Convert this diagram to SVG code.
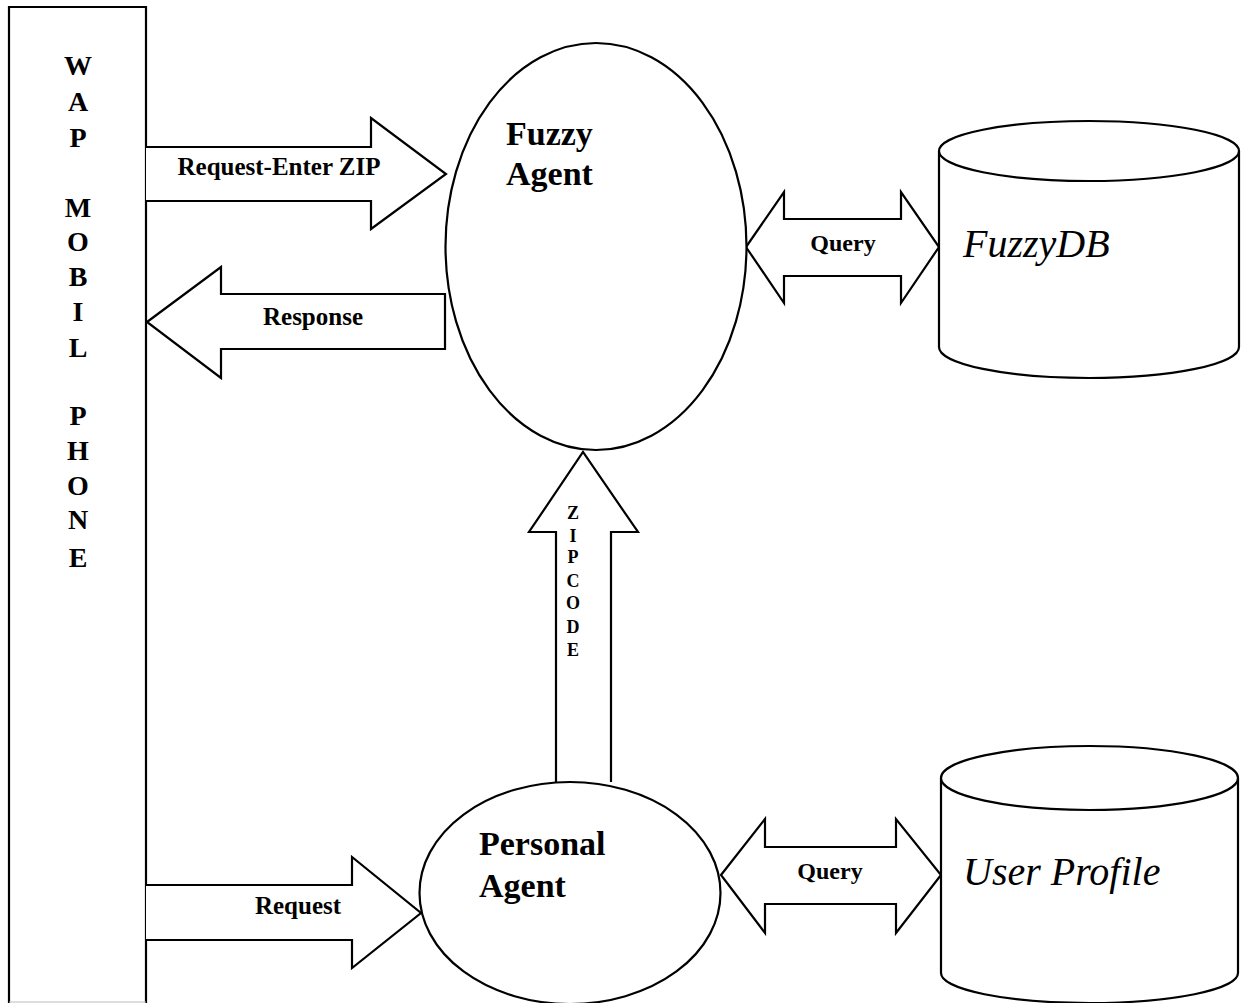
<svg xmlns="http://www.w3.org/2000/svg" width="1241" height="1003" viewBox="0 0 1241 1003">
<style>
.s{fill:#fff;stroke:#000;stroke-width:2.2;stroke-linejoin:miter}
.b{font-family:"Liberation Serif","Times New Roman",serif;font-weight:bold;fill:#000}
.i{font-family:"Liberation Serif","Times New Roman",serif;font-style:italic;fill:#000}
.v{font-size:28px;text-anchor:middle}
.l{font-size:25px;text-anchor:middle}
.q{font-size:24px;text-anchor:middle}
.z{font-size:18px;text-anchor:middle}
.n{font-size:34px}
.d{font-size:40px}
</style>
<rect width="1241" height="1003" fill="#fff"/>
<g id="wap-phone">
<path class="s" d="M146,1003 V7 H9 V1003"/>
<line x1="9" y1="1002" x2="146" y2="1002" stroke="#bbb" stroke-width="1"/>
<text class="b v" x="78"><tspan x="78" y="75">W</tspan><tspan x="78" y="111">A</tspan><tspan x="78" y="147">P</tspan><tspan x="78" y="217">M</tspan><tspan x="78" y="251">O</tspan><tspan x="78" y="286">B</tspan><tspan x="78" y="321">I</tspan><tspan x="78" y="357">L</tspan><tspan x="78" y="425">P</tspan><tspan x="78" y="460">H</tspan><tspan x="78" y="495">O</tspan><tspan x="78" y="529">N</tspan><tspan x="78" y="567">E</tspan></text>
</g>
<g id="connectors">
<g id="arrow-request-enter-zip">
<path class="s" d="M146,147 H371 V118 L446,174 L371,229 V201 H146"/>
<text class="b l" x="279" y="175">Request-Enter ZIP</text>
</g>
<g id="arrow-response">
<path class="s" d="M147,322 L221,267 V294 H445 V349 H221 V378 Z"/>
<text class="b l" x="313" y="325">Response</text>
</g>
<g id="arrow-query-fuzzydb">
<path class="s" d="M746,247 L784,192 V219 H901 V192 L939,247 L901,303 V276 H784 V303 Z"/>
<text class="b q" x="843" y="251">Query</text>
</g>
<g id="arrow-zipcode">
<path class="s" d="M556,782 V532 H529 L583,452 L638,532 H611 V782"/>
<text class="b z"><tspan x="573" y="519">Z</tspan><tspan x="573" y="542">I</tspan><tspan x="573" y="563">P</tspan><tspan x="573" y="587">C</tspan><tspan x="573" y="609">O</tspan><tspan x="573" y="633">D</tspan><tspan x="573" y="656">E</tspan></text>
</g>
<g id="arrow-request">
<path class="s" d="M146,885 H352 V857 L421,913 L352,968 V940 H146"/>
<text class="b l" x="298" y="914">Request</text>
</g>
<g id="arrow-query-profile">
<path class="s" d="M721,875 L765,819 V847 H896 V819 L941,875 L896,933 V904 H765 V933 Z"/>
<text class="b q" x="830" y="879">Query</text>
</g>
</g>
<g id="fuzzy-agent">
<ellipse class="s" cx="596" cy="246.5" rx="150.5" ry="203.5"/>
<text class="b n" x="506" y="145">Fuzzy</text>
<text class="b n" x="506" y="185">Agent</text>
</g>
<g id="fuzzy-db">
<path class="s" d="M939,151 V347 A150,31 0 0 0 1239,347 V151"/>
<ellipse class="s" cx="1089" cy="151" rx="150" ry="30"/>
<text class="i d" x="963" y="257">FuzzyDB</text>
</g>
<g id="personal-agent">
<ellipse class="s" cx="570" cy="893" rx="150.5" ry="111"/>
<text class="b n" x="479" y="855">Personal</text>
<text class="b n" x="479" y="897">Agent</text>
</g>
<g id="user-profile">
<path class="s" d="M941,778 V973 A148.5,30 0 0 0 1238,973 V778"/>
<ellipse class="s" cx="1089.5" cy="778" rx="148.5" ry="32"/>
<text class="i d" x="963" y="885">User Profile</text>
</g>
</svg>
